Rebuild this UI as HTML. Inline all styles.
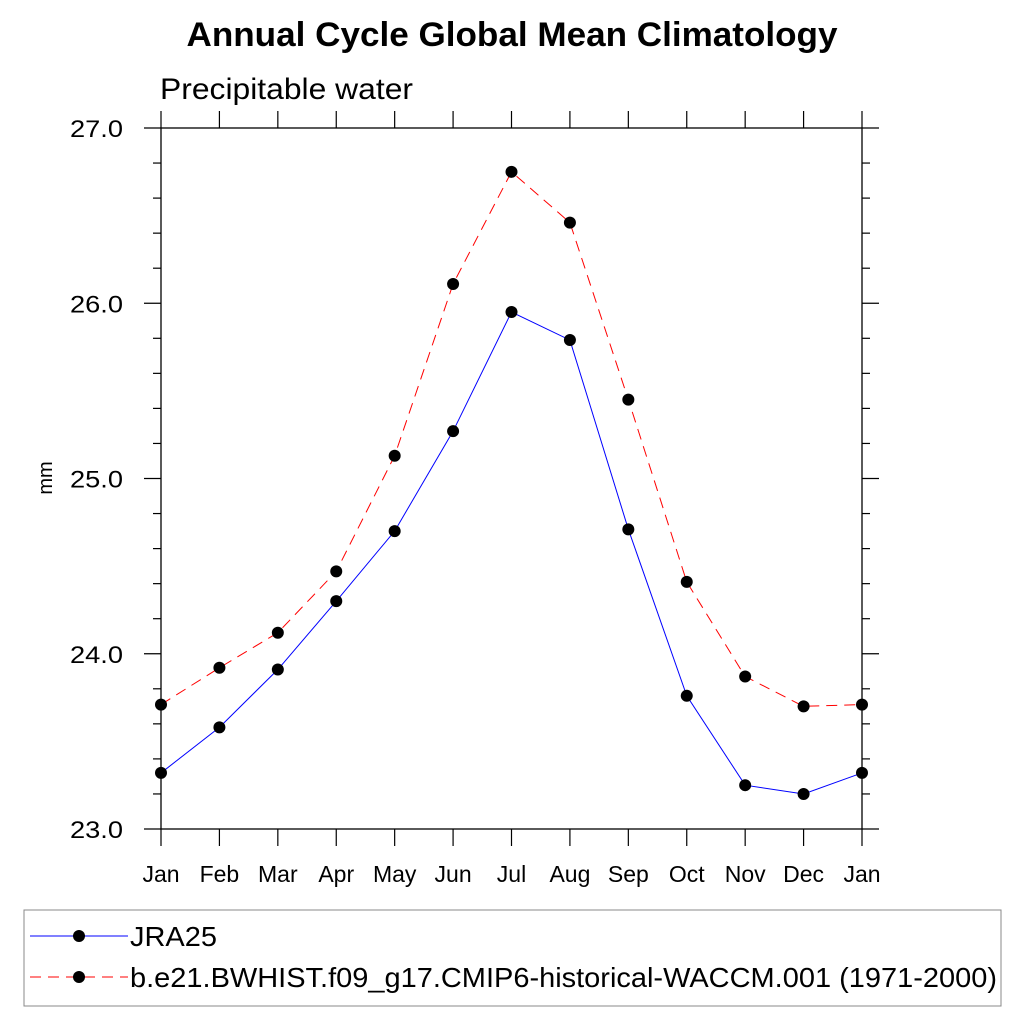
<!DOCTYPE html>
<html><head><meta charset="utf-8"><style>body{margin:0;background:#fff}svg{display:block}text{font-family:"Liberation Sans",sans-serif}</style></head>
<body>
<svg id="c" width="1024" height="1024" xmlns="http://www.w3.org/2000/svg">
<text x="512" y="46" text-anchor="middle" font-size="34" font-weight="bold" textLength="651" lengthAdjust="spacingAndGlyphs">Annual Cycle Global Mean Climatology</text>
<text x="160" y="99" font-size="30" textLength="253" lengthAdjust="spacingAndGlyphs">Precipitable water</text>
<text transform="translate(52,478) rotate(-90)" text-anchor="middle" font-size="20">mm</text>
<g id="axes"></g><g id="series"></g>
<rect x="24" y="910" width="977" height="96" fill="none" stroke="#888" stroke-width="1"/>
<g>
<line x1="30" y1="936" x2="128" y2="936" stroke="#00f" stroke-width="1"/><circle cx="79" cy="936" r="6"/>
<text x="130" y="946" font-size="28" textLength="87" lengthAdjust="spacingAndGlyphs">JRA25</text></g>
<g>
<line x1="30" y1="977" x2="128" y2="977" stroke="#f00" stroke-width="1" stroke-dasharray="11,7"/><circle cx="79" cy="977" r="6"/>
<text x="130" y="987" font-size="28" textLength="867" lengthAdjust="spacingAndGlyphs">b.e21.BWHIST.f09_g17.CMIP6-historical-WACCM.001 (1971-2000)</text></g>
</svg>
<script>
const months=["Jan","Feb","Mar","Apr","May","Jun","Jul","Aug","Sep","Oct","Nov","Dec","Jan"];
const jra25=[23.32,23.58,23.91,24.30,24.70,25.27,25.95,25.79,24.71,23.76,23.25,23.20,23.32];
const waccm=[23.71,23.92,24.12,24.47,25.13,26.11,26.75,26.46,25.45,24.41,23.87,23.70,23.71];
const yTicks=["23.0","24.0","25.0","26.0","27.0"];
const L=161,R=862,T=128,B=829,ymin=23,ymax=27;
const NS="http://www.w3.org/2000/svg";
const xs=i=>L+(R-L)*i/(months.length-1);
const ys=v=>B-(v-ymin)/(ymax-ymin)*(B-T);
function mk(tag,at,parent){const e=document.createElementNS(NS,tag);for(const k in at)e.setAttribute(k,at[k]);parent.appendChild(e);return e;}
const ax=document.getElementById('axes'),sr=document.getElementById('series');
const fr=mk('rect',{x:L,y:T,width:R-L,height:B-T,fill:'none',stroke:'#000','stroke-width':1.3},ax);


months.forEach((m,i)=>{const x=xs(i);
mk('line',{x1:x,y1:B,x2:x,y2:B+17,stroke:'#000','stroke-width':1.2},ax);
mk('line',{x1:x,y1:T,x2:x,y2:T-17,stroke:'#000','stroke-width':1.2},ax);
const t=mk('text',{x:x,y:B+53,'text-anchor':'middle','font-size':23},ax);t.textContent=m;

});
for(let v=ymin;v<=ymax+1e-9;v+=0.2){const y=ys(v);const maj=Math.abs(v-Math.round(v))<1e-6;const len=maj?17:8;
mk('line',{x1:L,y1:y,x2:L-len,y2:y,stroke:'#000','stroke-width':1.2},ax);
mk('line',{x1:R,y1:y,x2:R+len,y2:y,stroke:'#000','stroke-width':1.2},ax);}
yTicks.forEach(s=>{const t=mk('text',{x:L-38,y:ys(parseFloat(s))+9,'text-anchor':'end','font-size':24,textLength:53,lengthAdjust:'spacingAndGlyphs'},ax);t.textContent=s;

});
function draw(d,col,dash,name){const g=mk('g',{},sr);


mk('polyline',{points:d.map((v,i)=>xs(i)+','+ys(v)).join(' '),fill:'none',stroke:col,'stroke-width':1,'stroke-dasharray':dash},g);
d.forEach((v,i)=>{const c=mk('circle',{cx:xs(i),cy:ys(v),r:6,fill:'#000'},g);

});}
draw(waccm,'#f00','11,7','series-waccm');
draw(jra25,'#00f','none','series-jra25');
</script>
</body></html>
